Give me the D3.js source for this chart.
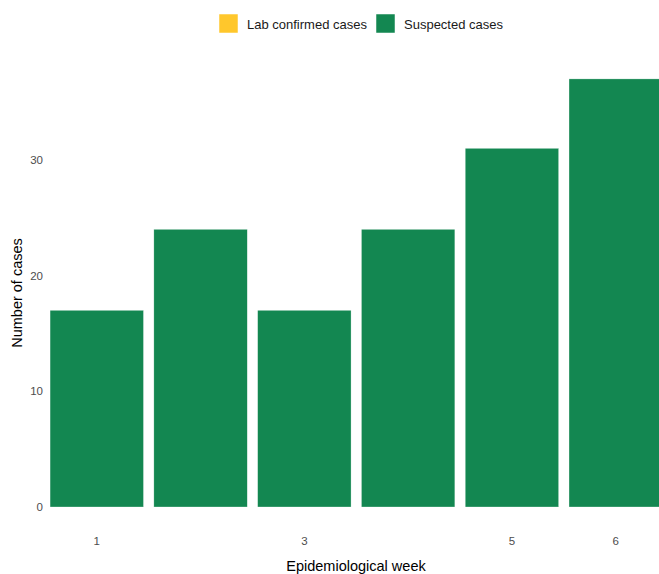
<!DOCTYPE html>
<html>
<head>
<meta charset="utf-8">
<script src="https://cdn.jsdelivr.net/npm/d3@7"></script>
<style>
  html, body { margin: 0; padding: 0; background: #fff; }
  svg { display: block; font-family: "Liberation Sans", Arial, Helvetica, sans-serif; }
</style>
</head>
<body>
<div id="chart"></div>
<script>
const weeks = [1, 2, 3, 4, 5, 6];
const labConfirmed = [0, 0, 0, 0, 0, 0];
const suspected = [17, 24, 17, 24, 31, 37];
const seriesNames = ["Lab confirmed cases", "Suspected cases"];
const seriesColors = ["#FFC72C", "#138751"];
const xTickLabels = [1, 3, 5, 6];
const yTicks = [0, 10, 20, 30];

const W = 659, H = 574;
const svg = d3.select("#chart").append("svg").attr("width", W).attr("height", H);

const rows = weeks.map((w, i) => ({ week: w, lab: labConfirmed[i], susp: suspected[i] }));
const stack = d3.stack().keys(["lab", "susp"]);
const stacked = stack(rows);

const x = d3.scaleBand().domain(weeks).range([34.5, 678]).paddingInner(0.1).paddingOuter(0.15);
const yMax = d3.max(rows, d => d.lab + d.susp);
const y = d3.scaleLinear().domain([-yMax * 0.05, yMax * 1.05]).range([528.4, 57.5]);

// bars
svg.append("g").selectAll("g").data(stacked).join("g")
  .attr("fill", (d, i) => seriesColors[i])
  .selectAll("rect").data(d => d).join("rect")
  .attr("x", d => x(d.data.week))
  .attr("width", x.bandwidth())
  .attr("y", d => y(d[1]))
  .attr("height", d => Math.max(0, y(d[0]) - y(d[1])))
  .attr("stroke", "#ffffff").attr("stroke-opacity", 0.6).attr("stroke-width", 0.5);

// y axis
const yAxis = svg.append("g").attr("transform", "translate(43,0)")
  .call(d3.axisLeft(y).tickValues(yTicks).tickSize(0).tickPadding(0));
yAxis.select(".domain").remove();
yAxis.selectAll("text").attr("fill", "#4d4d4d").attr("font-size", "11.5px")
  .attr("font-family", "Liberation Sans, Arial, sans-serif");

// x axis
const xAxis = svg.append("g").attr("transform", "translate(0,532)")
  .call(d3.axisBottom(x).tickValues(xTickLabels).tickSize(0).tickPadding(5));
xAxis.select(".domain").remove();
xAxis.selectAll("text").attr("fill", "#4d4d4d").attr("font-size", "11.5px")
  .attr("font-family", "Liberation Sans, Arial, sans-serif");

// axis titles
svg.append("text").attr("x", 356).attr("y", 571)
  .attr("text-anchor", "middle").attr("font-size", "14.5px").attr("fill", "#000")
  .text("Epidemiological week");
svg.append("text")
  .attr("transform", "translate(22,293) rotate(-90)")
  .attr("text-anchor", "middle").attr("font-size", "14.5px").attr("fill", "#000")
  .text("Number of cases");

// legend
const legendItems = [
  { name: seriesNames[0], color: seriesColors[0], x: 219 },
  { name: seriesNames[1], color: seriesColors[1], x: 376 }
];
const lg = svg.append("g").selectAll("g").data(legendItems).join("g")
  .attr("transform", d => `translate(${d.x},14)`);
lg.append("rect").attr("width", 19).attr("height", 19).attr("fill", d => d.color)
  .attr("stroke", "#ffffff").attr("stroke-width", 0.5);
lg.append("text").attr("x", 28).attr("y", 14.5).attr("font-size", "13px").attr("fill", "#1a1a1a")
  .text(d => d.name);
</script>
</body>
</html>
